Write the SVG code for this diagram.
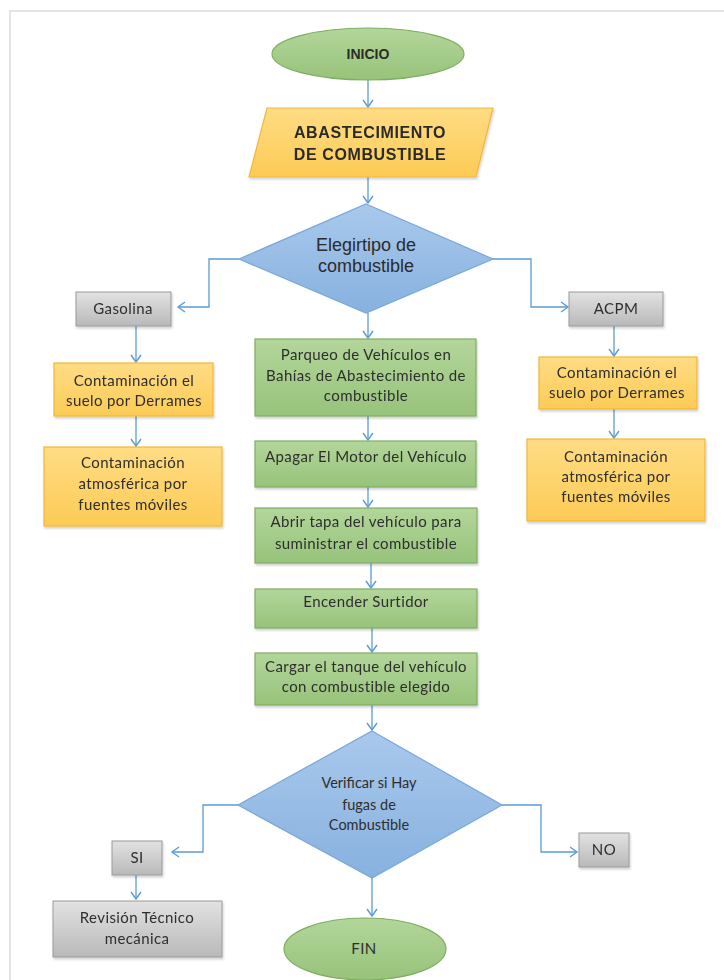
<svg xmlns="http://www.w3.org/2000/svg" width="724" height="980" viewBox="0 0 724 980">
<defs>
<linearGradient id="gGreen" x1="0" y1="0" x2="0" y2="1"><stop offset="0" stop-color="#b3d69b"/><stop offset="1" stop-color="#97c37a"/></linearGradient>
<linearGradient id="gOrange" x1="0" y1="0" x2="0" y2="1"><stop offset="0" stop-color="#ffdc84"/><stop offset="1" stop-color="#fccb55"/></linearGradient>
<linearGradient id="gBlue" x1="0" y1="0" x2="0" y2="1"><stop offset="0" stop-color="#a9c9ec"/><stop offset="1" stop-color="#87b1df"/></linearGradient>
<linearGradient id="gGray" x1="0" y1="0" x2="0" y2="1"><stop offset="0" stop-color="#e2e2e2"/><stop offset="1" stop-color="#b9b9b9"/></linearGradient>
<marker id="arr" markerUnits="userSpaceOnUse" markerWidth="14" markerHeight="14" refX="8" refY="6" orient="auto">
<path d="M1,1 L8,6 L1,11" fill="none" stroke="#5b9bd5" stroke-width="1.4"/>
</marker>
<filter id="sh" x="-10%" y="-10%" width="130%" height="140%"><feDropShadow dx="1" dy="2" stdDeviation="1.2" flood-color="#000" flood-opacity="0.18"/></filter>
</defs>
<style>
.green{fill:url(#gGreen);stroke:#7fae5f;stroke-width:1.2}
.orange{fill:url(#gOrange);stroke:#f2b736;stroke-width:1.2}
.blue{fill:url(#gBlue);stroke:#7ba6d8;stroke-width:1.2}
.gray{fill:url(#gGray);stroke:#9a9a9a;stroke-width:1}
.t{font-family:Lato,"Open Sans","Noto Sans",sans-serif;font-size:15px;letter-spacing:0.4px;fill:#2e2e2e;text-anchor:middle}
.d{font-family:Lato,"Open Sans","Noto Sans",sans-serif;font-size:14.5px;fill:#2e2e2e;text-anchor:middle}
.a{font-family:"Liberation Sans",Arial,sans-serif;fill:#2b2b2b;text-anchor:middle}
.c{fill:none;stroke:#5b9bd5;stroke-width:1.3;marker-end:url(#arr)}
</style>
<rect x="0" y="0" width="724" height="980" fill="#ffffff"/>
<path d="M10,980 L10,11 L724,11" fill="none" stroke="#dcdcdc" stroke-width="1.5"/>

<g id="connectors">
<path class="c" d="M368,80 L368,107"/>
<path class="c" d="M368,177 L368,203"/>
<path class="c" d="M239,259 L209,259 L209,307 L178,307"/>
<path class="c" d="M493,259 L531,259 L531,307 L568,307"/>
<path class="c" d="M368,313 L368,338"/>
<path class="c" d="M136,326 L136,362"/>
<path class="c" d="M136,416 L136,446"/>
<path class="c" d="M614,326 L614,356"/>
<path class="c" d="M614,409 L614,438"/>
<path class="c" d="M368,416 L368,440"/>
<path class="c" d="M368,487 L368,507"/>
<path class="c" d="M371,563 L371,588"/>
<path class="c" d="M372,628 L372,652"/>
<path class="c" d="M372,705 L372,730"/>
<path class="c" d="M238,805 L203,805 L203,852 L172,852"/>
<path class="c" d="M502,805 L541,805 L541,852 L577,852"/>
<path class="c" d="M136,875 L136,899"/>
<path class="c" d="M372,878 L372,916"/>
</g>

<g id="inicio">
<ellipse class="green" cx="368" cy="54" rx="96" ry="26"/>
<text class="a" x="368" y="55" font-size="14" font-weight="bold" dominant-baseline="middle">INICIO</text>
</g>

<g id="abastecimiento" filter="url(#sh)">
<polygon class="orange" points="267,108 493,108 476,177 249,177"/>
<text class="a" x="370" y="138" font-size="16" font-weight="bold" letter-spacing="0.6">ABASTECIMIENTO</text>
<text class="a" x="370" y="160" font-size="16" font-weight="bold" letter-spacing="0.6">DE COMBUSTIBLE</text>
</g>

<g id="elegir">
<polygon class="blue" points="366,204 493,259 366,313 239,259"/>
<text class="a" x="366" y="251" font-size="18">Elegirtipo de</text>
<text class="a" x="366" y="272" font-size="18">combustible</text>
</g>

<g id="gasolina" filter="url(#sh)">
<rect class="gray" x="76" y="292" width="95" height="34"/>
<text class="t" x="123" y="314" font-size="14">Gasolina</text>
</g>

<g id="acpm" filter="url(#sh)">
<rect class="gray" x="569" y="292" width="94" height="34"/>
<text class="t" x="616" y="314" font-size="14">ACPM</text>
</g>

<g id="suelo-gasolina" filter="url(#sh)">
<rect class="orange" x="54" y="363" width="159" height="53"/>
<text class="t" x="134" y="386">Contaminación el</text>
<text class="t" x="134" y="406">suelo por Derrames</text>
</g>

<g id="atm-gasolina" filter="url(#sh)">
<rect class="orange" x="44" y="447" width="178" height="79"/>
<text class="t" x="133" y="468">Contaminación</text>
<text class="t" x="133" y="489">atmosférica por</text>
<text class="t" x="133" y="510">fuentes móviles</text>
</g>

<g id="suelo-acpm" filter="url(#sh)">
<rect class="orange" x="539" y="357" width="158" height="52"/>
<text class="t" x="617" y="378">Contaminación el</text>
<text class="t" x="617" y="398">suelo por Derrames</text>
</g>

<g id="atm-acpm" filter="url(#sh)">
<rect class="orange" x="527" y="439" width="178" height="82"/>
<text class="t" x="616" y="462">Contaminación</text>
<text class="t" x="616" y="482">atmosférica por</text>
<text class="t" x="616" y="502">fuentes móviles</text>
</g>

<g id="parqueo" filter="url(#sh)">
<rect class="green" x="255" y="339" width="221" height="77"/>
<text class="t" x="366" y="360">Parqueo de Vehículos en</text>
<text class="t" x="366" y="381">Bahías de Abastecimiento de</text>
<text class="t" x="366" y="401">combustible</text>
</g>

<g id="apagar" filter="url(#sh)">
<rect class="green" x="255" y="441" width="221" height="46"/>
<text class="t" x="366" y="462">Apagar El Motor del Vehículo</text>
</g>

<g id="abrir" filter="url(#sh)">
<rect class="green" x="255" y="508" width="222" height="55"/>
<text class="t" x="366" y="527">Abrir tapa del vehículo para</text>
<text class="t" x="366" y="549">suministrar el combustible</text>
</g>

<g id="encender" filter="url(#sh)">
<rect class="green" x="255" y="589" width="222" height="39"/>
<text class="t" x="366" y="607">Encender Surtidor</text>
</g>

<g id="cargar" filter="url(#sh)">
<rect class="green" x="255" y="653" width="222" height="52"/>
<text class="t" x="366" y="672">Cargar el tanque del vehículo</text>
<text class="t" x="366" y="692">con combustible elegido</text>
</g>

<g id="verificar">
<polygon class="blue" points="372,731 502,805 372,878 238,805"/>
<text class="d" x="369" y="788">Verificar si Hay</text>
<text class="d" x="369" y="810">fugas de</text>
<text class="d" x="369" y="830">Combustible</text>
</g>

<g id="si" filter="url(#sh)">
<rect class="gray" x="112" y="841" width="50" height="34"/>
<text class="t" x="137" y="863">SI</text>
</g>

<g id="no" filter="url(#sh)">
<rect class="gray" x="579" y="833" width="50" height="34"/>
<text class="t" x="604" y="855">NO</text>
</g>

<g id="revision" filter="url(#sh)">
<rect class="gray" x="53" y="901" width="169" height="56"/>
<text class="t" x="137" y="923">Revisión Técnico</text>
<text class="t" x="137" y="944">mecánica</text>
</g>

<g id="fin">
<ellipse class="green" cx="365" cy="949" rx="81" ry="31"/>
<text class="t" x="364" y="950" dominant-baseline="middle">FIN</text>
</g>
</svg>
